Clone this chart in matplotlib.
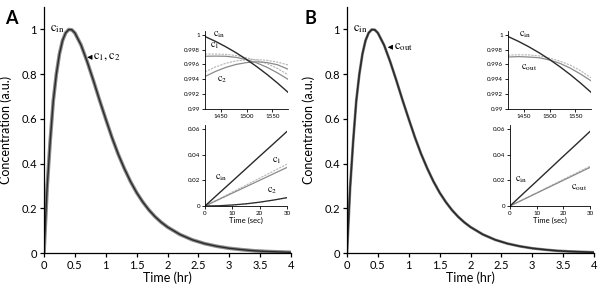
import matplotlib.pyplot as plt

plt.rcParams['font.family'] = ['Lato', 'DejaVu Sans']
plt.rcParams['mathtext.fontset'] = 'stix'

# main curve, time in hours
t_hr = [0, 0.05, 0.1, 0.15, 0.2, 0.25, 0.3, 0.35, 0.4, 0.45, 0.5, 0.6, 0.7, 0.8,
        0.9, 1.0, 1.1, 1.2, 1.3, 1.4, 1.5, 1.6, 1.7, 1.8, 1.9, 2.0, 2.2, 2.4,
        2.6, 2.8, 3.0, 3.2, 3.4, 3.6, 3.8, 4.0]
c_main = [0, 0.29, 0.50, 0.68, 0.80, 0.89, 0.95, 0.984, 0.999, 0.998, 0.984,
          0.93, 0.855, 0.771, 0.683, 0.599, 0.517, 0.443, 0.378, 0.32, 0.27,
          0.228, 0.192, 0.162, 0.137, 0.116, 0.083, 0.059, 0.042, 0.030,
          0.021, 0.015, 0.010, 0.007, 0.005, 0.003]

# inset: first 30 seconds
t_sec = [0, 5, 10, 15, 20, 25, 30]
cin_early = [0, 0.0097, 0.0193, 0.029, 0.0387, 0.0483, 0.058]
c1_early = [0, 0.005, 0.010, 0.015, 0.020, 0.025, 0.030]
c1_early_dash = [0, 0.0054, 0.0108, 0.0162, 0.0217, 0.0271, 0.0325]
c2_early = [0, 0.0002, 0.0008, 0.0017, 0.003, 0.0046, 0.0065]
c2_early_dash = [0, 0.0001, 0.0006, 0.0015, 0.0028, 0.0045, 0.0063]
cout_early = [0, 0.005, 0.010, 0.015, 0.020, 0.025, 0.030]
cout_early_dash = [0, 0.0052, 0.0103, 0.0155, 0.0207, 0.0258, 0.031]

# inset: around the peak, seconds
t_peak = [1420, 1440, 1460, 1480, 1500, 1520, 1540, 1560, 1580]
cin_peak = [0.99976, 0.99911, 0.99838, 0.99757, 0.99667, 0.99569, 0.99463, 0.99348, 0.99225]
c1_peak = [0.99710, 0.99712, 0.99710, 0.99695, 0.99665, 0.99620, 0.99560, 0.99485, 0.99400]
c1_peak_dash = [0.99740, 0.99740, 0.99735, 0.99720, 0.99690, 0.99655, 0.99610, 0.99545, 0.99460]
c2_peak = [0.99437, 0.99505, 0.99560, 0.99600, 0.99625, 0.99635, 0.99625, 0.99595, 0.99536]
c2_peak_dash = [0.99500, 0.99565, 0.99615, 0.99648, 0.99662, 0.99665, 0.99655, 0.99630, 0.99594]
cout_peak = [0.99700, 0.99705, 0.99700, 0.99690, 0.99660, 0.99615, 0.99550, 0.99470, 0.99380]
cout_peak_dash = [0.99725, 0.99730, 0.99728, 0.99715, 0.99685, 0.99645, 0.99590, 0.99515, 0.99420]

dark = '#2a2a2a'
mid = '#8a8a8a'
light = '#b5b5b5'

fig = plt.figure(figsize=(6, 2.93), dpi=100)


def style_main(ax):
    for s in ['top', 'right']:
        ax.spines[s].set_visible(False)
    for s in ['left', 'bottom']:
        ax.spines[s].set_linewidth(0.9)
    ax.set_xlim(0, 4)
    ax.set_ylim(0, 1.1)
    ax.set_xticks([0, 0.5, 1, 1.5, 2, 2.5, 3, 3.5, 4])
    ax.set_xticklabels(['0', '0.5', '1', '1.5', '2', '2.5', '3', '3.5', '4'])
    ax.set_yticks([0, 0.2, 0.4, 0.6, 0.8, 1])
    ax.set_yticklabels(['0', '0.2', '0.4', '0.6', '0.8', '1'])
    ax.tick_params(direction='out', length=3, width=0.9, labelsize=8, pad=2)
    ax.set_xlabel('Time (hr)', fontsize=9)
    ax.set_ylabel('Concentration (a.u.)', fontsize=9)
    ax.yaxis.set_label_coords(-0.13, 0.5)
    ax.xaxis.set_label_coords(0.5, -0.075)


def style_inset(ax):
    for s in ['top', 'right']:
        ax.spines[s].set_visible(False)
    for s in ['left', 'bottom']:
        ax.spines[s].set_linewidth(0.6)
    ax.tick_params(direction='out', length=2, width=0.6, labelsize=4.5, pad=1.5)


lab = dict(fontsize=9)
ilab = dict(fontsize=7.5)

# ---- panel A ----
axA = fig.add_axes([44 / 600, 40 / 293, 247 / 600, 246 / 293])
axA.plot(t_hr, c_main, color=mid, lw=2.6)
axA.plot(t_hr, c_main, color=dark, lw=1.0)
style_main(axA)
axA.text(0.1, 1.0, r'$\mathrm{c_{in}}$', ha='left', va='center', **lab)
axA.annotate(r'$\mathrm{c_1,c_2}$', xy=(0.7, 0.875), xytext=(0.8, 0.875),
             ha='left', va='center', **lab,
             arrowprops=dict(arrowstyle='-|>', color='black', lw=0.6,
                             mutation_scale=7, shrinkA=0, shrinkB=0))

axA1 = fig.add_axes([205 / 600, 184 / 293, 83 / 600, 78 / 293])
axA1.plot(t_peak, c1_peak_dash, color=light, lw=0.8, ls=(0, (2, 1)))
axA1.plot(t_peak, c2_peak_dash, color=light, lw=0.8, ls=(0, (2, 1)))
axA1.plot(t_peak, c1_peak, color=mid, lw=0.9)
axA1.plot(t_peak, c2_peak, color=mid, lw=0.9)
axA1.plot(t_peak, cin_peak, color=dark, lw=1.0)
axA1.set_xlim(1420, 1580)
axA1.set_ylim(0.99, 1.0005)
axA1.set_xticks([1450, 1500, 1550])
axA1.set_yticks([0.99, 0.992, 0.994, 0.996, 0.998, 1])
axA1.set_yticklabels(['0.99', '0.992', '0.994', '0.996', '0.998', '1'])
style_inset(axA1)
axA1.text(1436, 1.0000, r'$\mathrm{c_{in}}$', ha='left', va='center', **ilab)
axA1.text(1430, 0.99845, r'$\mathrm{c_1}$', ha='left', va='center', **ilab)
axA1.text(1443, 0.99392, r'$\mathrm{c_2}$', ha='left', va='center', **ilab)

axA2 = fig.add_axes([205 / 600, 87 / 293, 82 / 600, 81 / 293])
axA2.plot(t_sec, c1_early_dash, color=light, lw=0.8, ls=(0, (2, 1)))
axA2.plot(t_sec, c2_early_dash, color=light, lw=0.8, ls=(0, (2, 1)))
axA2.plot(t_sec, c1_early, color=mid, lw=0.9)
axA2.plot(t_sec, c2_early, color=dark, lw=0.9)
axA2.plot(t_sec, cin_early, color=dark, lw=1.0)
axA2.set_xlim(0, 30)
axA2.set_ylim(0, 0.063)
axA2.set_xticks([0, 10, 20, 30])
axA2.set_yticks([0, 0.02, 0.04, 0.06])
axA2.set_yticklabels(['0', '0.02', '0.04', '0.06'])
style_inset(axA2)
axA2.set_xlabel('Time (sec)', fontsize=5.5, labelpad=0.5)
axA2.text(3.5, 0.0218, r'$\mathrm{c_{in}}$', ha='left', va='center', **ilab)
axA2.text(24.5, 0.035, r'$\mathrm{c_1}$', ha='left', va='center', **ilab)
axA2.text(22.7, 0.0117, r'$\mathrm{c_2}$', ha='left', va='center', **ilab)

# ---- panel B ----
axB = fig.add_axes([347 / 600, 40 / 293, 247 / 600, 246 / 293])
axB.plot(t_hr, c_main, color=mid, lw=2.0)
axB.plot(t_hr, c_main, color=dark, lw=1.2)
style_main(axB)
axB.text(0.1, 1.0, r'$\mathrm{c_{in}}$', ha='left', va='center', **lab)
axB.annotate(r'$\mathrm{c_{out}}$', xy=(0.66, 0.92), xytext=(0.76, 0.92),
             ha='left', va='center', **lab,
             arrowprops=dict(arrowstyle='-|>', color='black', lw=0.6,
                             mutation_scale=7, shrinkA=0, shrinkB=0))

axB1 = fig.add_axes([508 / 600, 184 / 293, 83 / 600, 78 / 293])
axB1.plot(t_peak, cout_peak_dash, color=light, lw=0.8, ls=(0, (2, 1)))
axB1.plot(t_peak, cout_peak, color=mid, lw=0.9)
axB1.plot(t_peak, cin_peak, color=dark, lw=1.0)
axB1.set_xlim(1420, 1580)
axB1.set_ylim(0.99, 1.0005)
axB1.set_xticks([1450, 1500, 1550])
axB1.set_yticks([0.99, 0.992, 0.994, 0.996, 0.998, 1])
axB1.set_yticklabels(['0.99', '0.992', '0.994', '0.996', '0.998', '1'])
style_inset(axB1)
axB1.text(1441, 1.0000, r'$\mathrm{c_{in}}$', ha='left', va='center', **ilab)
axB1.text(1445, 0.99554, r'$\mathrm{c_{out}}$', ha='left', va='center', **ilab)

axB2 = fig.add_axes([510 / 600, 87 / 293, 80 / 600, 81 / 293])
axB2.plot(t_sec, cout_early_dash, color=light, lw=0.8, ls=(0, (2, 1)))
axB2.plot(t_sec, cout_early, color=mid, lw=0.9)
axB2.plot(t_sec, cin_early, color=dark, lw=1.0)
axB2.set_xlim(0, 30)
axB2.set_ylim(0, 0.063)
axB2.set_xticks([0, 10, 20, 30])
axB2.set_yticks([0, 0.02, 0.04, 0.06])
axB2.set_yticklabels(['0', '0.02', '0.04', '0.06'])
style_inset(axB2)
axB2.set_xlabel('Time (sec)', fontsize=5.5, labelpad=0.5)
axB2.text(1.9, 0.0202, r'$\mathrm{c_{in}}$', ha='left', va='center', **ilab)
axB2.text(23, 0.0139, r'$\mathrm{c_{out}}$', ha='left', va='center', **ilab)

fig.text(5 / 600, 1 - 18 / 293, 'A', fontsize=13, fontweight='bold', va='center')
fig.text(305 / 600, 1 - 18 / 293, 'B', fontsize=13, fontweight='bold', va='center')

fig.savefig('out.png', dpi=100)
